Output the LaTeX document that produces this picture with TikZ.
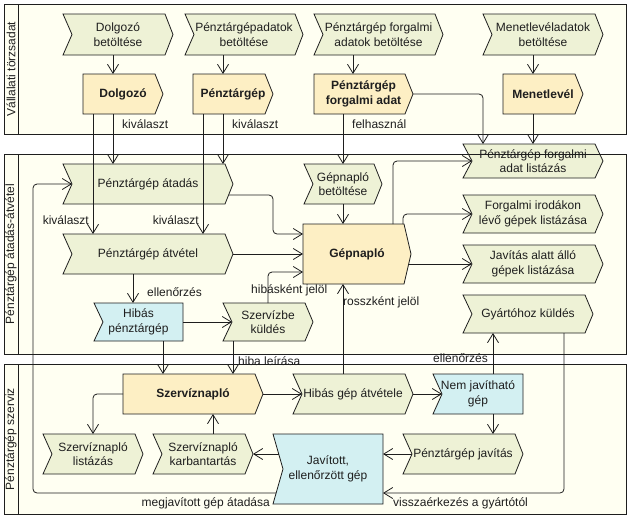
\documentclass[tikz,border=0pt]{standalone}
\usepackage{fontspec}
\setmainfont{Liberation Sans}
\usetikzlibrary{arrows.meta}
\definecolor{procc}{HTML}{EEF2D6}
\definecolor{objc}{HTML}{FDEFC4}
\definecolor{bluec}{HTML}{D3F0F2}
\definecolor{lanec}{HTML}{FFFFF2}
\definecolor{linec}{HTML}{1E1E1E}
\definecolor{txtc}{HTML}{1E1E1E}
\tikzset{
  lbl/.style={font=\fontsize{12}{14.5}\selectfont, text=txtc, inner sep=0pt},
  body/.style={inner sep=0pt, outer sep=0pt},
  arr/.style={draw=linec, line width=0.8pt, -{Straight Barb[length=9pt,width=11pt]}, rounded corners=4pt},
  shapeline/.style={draw=linec, line width=0.8pt},
  procfill/.style={fill=procc},
  objfill/.style={fill=objc},
  bluefill/.style={fill=bluec},
}
\newcommand\shp[9]{%
  \node[body, minimum width={(#7-#5)*1pt}, minimum height={(#8-#6)*1pt}] (#1) at ({(#5+#7)/2},{(#6+#8)/2}) {};
  \path[shapeline,#2] (#1.north west) -- ([xshift=-#4pt]#1.north east) -- (#1.east) -- ([xshift=-#4pt]#1.south east) -- (#1.south west) -- ([xshift=#3pt]#1.west) -- cycle;
  \node[lbl, align=center] (#1-t) at (#1.center) {#9};
}
\begin{document}
\begin{tikzpicture}[x=1pt,y=-1pt]
\useasboundingbox (0,0) rectangle (631,520);
% lanes background
\fill[lanec] (4,4) rectangle (626,134);
\fill[lanec] (4,154) rectangle (626,354);
\fill[lanec] (4,364) rectangle (626,514);
\node[lbl, rotate=90] (l1) at (11,69) {Vállalati törzsadat};
\node[lbl, rotate=90] (l2) at (11,254) {Pénztárgép átadás-átvétel};
\node[lbl, rotate=90] (l3) at (11,439) {Pénztárgép szerviz};
% lane 1
\shp{p1}{procfill}{9}{8}{63}{14}{173}{55}{Dolgozó\\betöltése}
\shp{o1}{objfill}{0}{8}{83}{74}{163}{114}{\bfseries Dolgozó}
\shp{p2}{procfill}{9}{8}{185}{14}{303}{55}{Pénztárgépadatok\\betöltése}
\shp{o2}{objfill}{0}{8}{193}{74}{273}{114}{\bfseries Pénztárgép}
\shp{p3}{procfill}{9}{8}{314}{14}{443}{55}{Pénztárgép forgalmi\\adatok betöltése}
\shp{o3}{objfill}{0}{8}{314}{74}{413}{114}{\bfseries Pénztárgép\\\bfseries forgalmi adat}
\shp{p4}{procfill}{9}{8}{483}{14}{603}{55}{Menetlevéladatok\\betöltése}
\shp{o4}{objfill}{0}{8}{503}{74}{583}{114}{\bfseries Menetlevél}
% lane 2
\shp{p5}{procfill}{9}{8}{63}{164}{233}{204}{Pénztárgép átadás}
\shp{p6}{procfill}{9}{8}{63}{234}{233}{274}{Pénztárgép átvétel}
\shp{p7}{procfill}{9}{8}{304}{164}{382}{204}{Gépnapló\\betöltése}
\shp{o5}{objfill}{0}{7}{303}{224}{411}{284}{\bfseries Gépnapló}
\shp{p8}{procfill}{9}{8}{463}{144}{603}{178}{Pénztárgép forgalmi\\adat listázás}
\shp{p9}{procfill}{9}{8}{463}{195}{603}{233}{Forgalmi irodákon\\lévő gépek listázása}
\shp{p10}{procfill}{9}{8}{463}{245}{603}{283}{Javítás alatt álló\\gépek listázása}
\shp{p11}{procfill}{9}{8}{463}{295}{593}{333}{Gyártóhoz küldés}
\shp{b1}{bluefill}{9}{0}{94}{303}{183}{341}{Hibás\\pénztárgép}
\shp{p12}{procfill}{9}{8}{223}{303}{313}{341}{Szervízbe\\küldés}
% lane 3
\shp{o6}{objfill}{0}{8}{123}{374}{263}{414}{\bfseries Szervíznapló}
\shp{p13}{procfill}{9}{8}{293}{374}{413}{414}{Hibás gép átvétele}
\shp{b2}{bluefill}{9}{0}{433}{374}{523}{414}{Nem javítható\\gép}
\shp{p14}{procfill}{9}{8}{43}{434}{143}{474}{Szervíznapló\\listázás}
\shp{p15}{procfill}{9}{8}{153}{434}{253}{474}{Szervíznapló\\karbantartás}
\shp{b3}{bluefill}{10}{0}{273}{434}{383}{504}{Javított,\\ellenőrzött gép}
\shp{p16}{procfill}{9}{8}{403}{434}{523}{474}{Pénztárgép javítás}
% connectors lane 1
\draw[arr] ([xshift=-5pt]p1.south) -- ([xshift=-10pt]o1.north);
\draw[arr] ([xshift=-21pt]p2.south) -- ([xshift=-10pt]o2.north);
\draw[arr] ([xshift=-25.5pt]p3.south) -- ([xshift=-10.5pt]o3.north);
\draw[arr] ([xshift=-10pt]p4.south) -- ([xshift=-10pt]o4.north);
% lane 1 -> lane 2
\draw[arr] ([xshift=-10pt]o1.south) -- ([xshift=-35pt]p5.north);
\draw[arr] ([xshift=-30pt]o1.south) -- ([xshift=-55pt]p6.north);
\draw[arr] ([xshift=-10pt]o2.south) -- ([xshift=75pt]p5.north);
\draw[arr] ([xshift=-30pt]o2.south) -- ([xshift=55pt]p6.north);
\draw[arr] ([xshift=-20.5pt]o3.south) -- (p7.north);
\draw[arr] (o3.east) -| ([xshift=-50pt]p8.north);
\draw[arr] ([xshift=-10pt]o4.south) -- (p8.north);
% lane 2
\draw[arr] (p7.south) -- ([xshift=-14pt]o5.north);
\draw[arr] ([xshift=-4pt,yshift=-11pt]p5.east) -| ([xshift=-30pt,yshift=20pt]o5.west) -- ([yshift=20pt]o5.west);
\draw[arr] (p6.east) -- (o5.west);
\draw[arr] (p12.north) |- ([yshift=-18pt]o5.west);
\draw[arr] ([xshift=-15pt]p6.south) -- ([xshift=-5.5pt]b1.north);
\draw[arr] (b1.east) -- ([xshift=9pt]p12.west);
\draw[arr] ([xshift=24.5pt]b1.south) -- ([xshift=-30pt]o6.north);
\draw[arr] ([xshift=-35pt]p12.south) -- ([xshift=40pt]o6.north);
\draw[arr] ([xshift=36pt]o5.north) |- ([xshift=9pt]p8.west);
\draw[arr] ([xshift=46pt]o5.north) |- ([xshift=9pt]p9.west);
\draw[arr] ([xshift=-2pt,yshift=-10pt]o5.east) -- ([xshift=9pt]p10.west);
\draw[arr] ([xshift=-10pt]p13.north) -- ([xshift=-14pt]o5.south);
\draw[arr] ([xshift=15pt]b2.north) -- ([xshift=-35pt]p11.south);
\draw[arr] ([xshift=36pt]p11.south) |- ([yshift=-24pt]b3.east);
% lane 3
\draw[arr] (o6.east) -- ([xshift=9pt]p13.west);
\draw[arr] (p13.east) -- ([xshift=9pt]b2.west);
\draw[arr] ([xshift=15pt]b2.south) -- ([xshift=30pt]p16.north);
\draw[arr] ([xshift=9pt]p16.west) -- ([yshift=15pt]b3.east);
\draw[arr] ([xshift=5.7pt,yshift=15pt]b3.west) -- (p15.east);
\draw[arr] ([xshift=10pt]p15.north) -- ([xshift=20pt]o6.south);
\draw[arr] (o6.west) -| (p14.north);
\draw[arr] ([xshift=3pt,yshift=-24pt]b3.west) -| ([xshift=-30pt]p5.west) -- ([xshift=9pt]p5.west);
% labels
\node[lbl, anchor=west] (t1) at (122,124) {kiválaszt};
\node[lbl, anchor=west] (t2) at (232,124) {kiválaszt};
\node[lbl, anchor=west] (t3) at (352,124) {felhasznál};
\node[lbl, anchor=east] (t4) at (89,220) {kiválaszt};
\node[lbl, anchor=east] (t5) at (199,220) {kiválaszt};
\node[lbl, anchor=west] (t6) at (147,292) {ellenőrzés};
\node[lbl, anchor=west] (t7) at (251,290) {hibásként jelöl};
\node[lbl, anchor=west] (t8) at (343,302) {rosszként jelöl};
\node[lbl, anchor=west] (t9) at (433,358) {ellenőrzés};
\node[lbl, anchor=west] (t10) at (238,361) {hiba leírása};
\node[lbl, anchor=east] (t11) at (270,503) {megjavított gép átadása};
\node[lbl, anchor=west] (t12) at (393,503) {visszaérkezés a gyártótól};
% lane borders
\draw[shapeline] (4,4) rectangle (626,134) (18,4) -- (18,134);
\draw[shapeline] (4,154) rectangle (626,354) (18,154) -- (18,354);
\draw[shapeline] (4,364) rectangle (626,514) (18,364) -- (18,514);
\end{tikzpicture}
\end{document}
